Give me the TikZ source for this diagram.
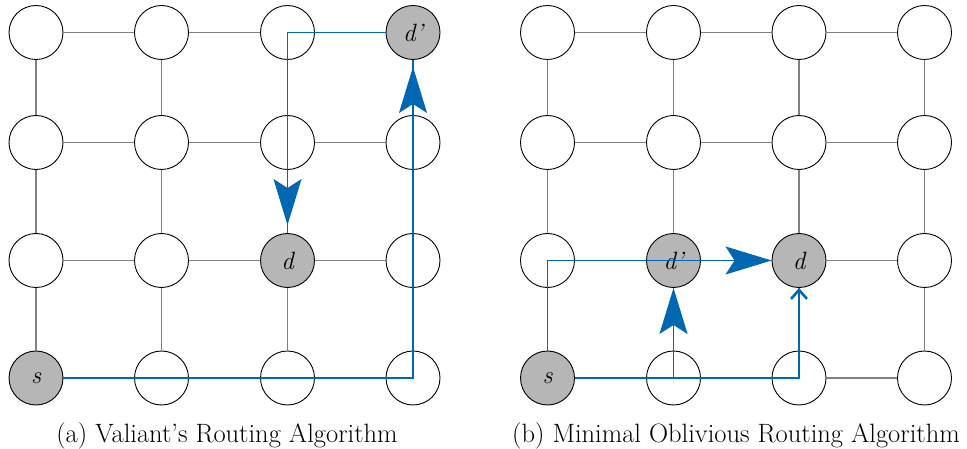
\documentclass[tikz,border=0pt]{standalone}
\usetikzlibrary{arrows.meta}
\definecolor{routeblue}{RGB}{0,104,178}
\definecolor{nodegray}{RGB}{181,182,181}
\definecolor{gridgray}{RGB}{128,128,128}
\begin{document}
\begin{tikzpicture}[x=1pt,y=-1pt,
  router/.style={circle,draw=black,line width=0.9pt,fill=white,minimum size=54pt,inner sep=0pt,font=\fontsize{25}{30}\selectfont\itshape},
  marked/.style={router,fill=nodegray},
  link/.style={draw=gridgray,line width=1.1pt},
  route/.style={draw=routeblue,line width=1.15pt},
  bighead/.style={-{Stealth[length=46pt,width=28pt,inset=9pt]}},
  barbhead/.style={-{Straight Barb[length=9pt,width=16pt,line width=2.6pt]}},
  caption/.style={font=\fontsize{26.5}{30}\selectfont,inner sep=0pt}
]
\useasboundingbox (0,0) rectangle (967,449);
% ---------- left grid (a)
\node[router] (L11) at (36,32.5) {};
\node[router] (L12) at (161.5,32.5) {};
\node[router] (L13) at (287.5,32.5) {};
\node[marked] (L14) at (413,32.5) {d\textquoteright};
\node[router] (L21) at (36,142.5) {};
\node[router] (L22) at (161.5,142.5) {};
\node[router] (L23) at (287.5,142.5) {};
\node[router] (L24) at (413,142.5) {};
\node[router] (L31) at (36,260.5) {};
\node[router] (L32) at (161.5,260.5) {};
\node[marked] (L33) at (287.5,260.5) {d};
\node[router] (L34) at (413,260.5) {};
\node[marked] (L41) at (36,378) {s};
\node[router] (L42) at (161.5,378) {};
\node[router] (L43) at (287.5,378) {};
\node[router] (L44) at (413,378) {};
% ---------- right grid (b)
\node[router] (R11) at (547.5,32.5) {};
\node[router] (R12) at (673.5,32.5) {};
\node[router] (R13) at (799,32.5) {};
\node[router] (R14) at (924.5,32.5) {};
\node[router] (R21) at (547.5,142.5) {};
\node[router] (R22) at (673.5,142.5) {};
\node[router] (R23) at (799,142.5) {};
\node[router] (R24) at (924.5,142.5) {};
\node[router] (R31) at (547.5,260.5) {};
\node[marked] (R32) at (673.5,260.5) {d\textquoteright};
\node[marked] (R33) at (799,260.5) {d};
\node[router] (R34) at (924.5,260.5) {};
\node[marked] (R41) at (547.5,378) {s};
\node[router] (R42) at (673.5,378) {};
\node[router] (R43) at (799,378) {};
\node[router] (R44) at (924.5,378) {};
% ---------- mesh links
\foreach \g in {L,R}{
  \foreach \i in {1,...,4}{
    \foreach \j/\k in {1/2,2/3,3/4}{
      \draw[link] (\g\i\j) -- (\g\i\k);
      \draw[link] (\g\j\i) -- (\g\k\i);
    }
  }
}
% ---------- routes (a)
\draw[route] (L41.east) -| (L14.south);
\draw[route] (L14.west) -| (L33.north);
\draw[route,bighead,shorten >=7pt] (L24.center) -- (L14.south);
\draw[route,bighead,shorten >=8pt] (L23.center) -- (L33.north);
% ---------- routes (b)
\draw[route,barbhead] (R41.east) -| (R33.south);
\draw[route,bighead] (R42.center) -- (R32.south);
\draw[route,bighead] (R41.north) |- (R33.west);
% ---------- captions
\node[caption,anchor=base] (capA) at (227,442) {(a) Valiant\textquoteright s Routing Algorithm};
\node[caption,anchor=base] (capB) at (736,442) {(b) Minimal Oblivious Routing Algorithm};
\end{tikzpicture}
\end{document}
